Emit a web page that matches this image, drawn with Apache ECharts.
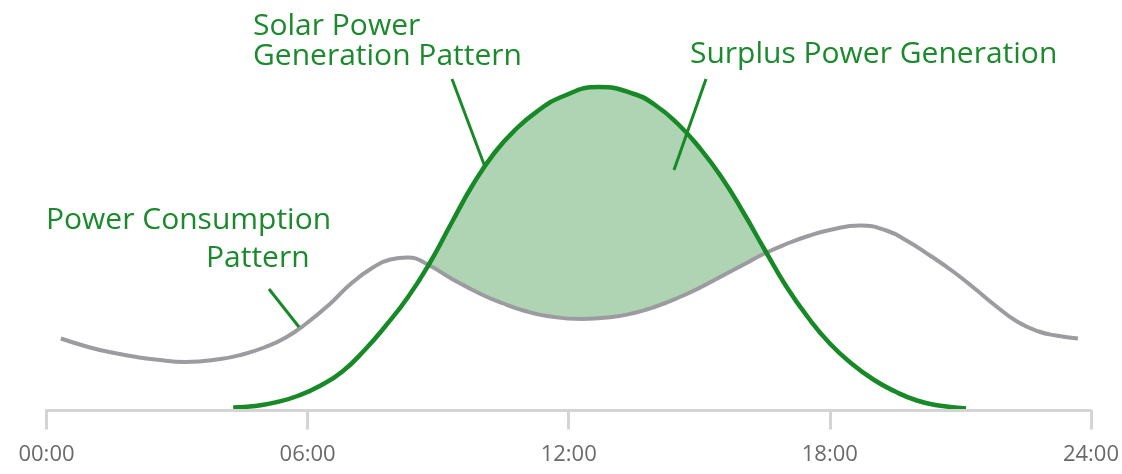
<!DOCTYPE html>
<html>
<head>
<meta charset="utf-8">
<script src="https://cdn.jsdelivr.net/npm/echarts@6/dist/echarts.min.js"></script>
<style>html,body{margin:0;padding:0;background:#fff}#c{width:1122px;height:474px}</style>
</head>
<body>
<div id="c"></div>
<script>
// Hours of day and relative power level (arbitrary units)
const CONSUMPTION_HOURS = [0.33,1.0,1.5,2.0,2.5,3.2,4.0,4.5,5.0,5.5,6.0,6.5,7.0,7.5,7.9,8.3,8.8,9.3,10.0,10.5,11.0,11.5,12.3,13.0,13.5,14.0,14.5,15.0,15.5,16.0,16.5,17.0,17.5,18.0,18.7,19.3,19.8,20.3,20.8,21.3,21.8,22.3,22.8,23.2,23.7];
const CONSUMPTION_VALUES = [72,63,58,54,51,48.5,51.5,56,63,73,88,106,127,143,151,153,145,132,116,107,99.5,94.5,91.5,93.5,97.5,104,112.5,122.5,134,145.5,157,166.5,174.5,180.5,185,180,169,155,140,123,105,89,79,75,72];
const SOLAR_HOURS = [4.29,4.8,5.3,5.8,6.3,6.8,7.3,7.8,8.3,8.8,9.3,9.8,10.3,10.8,11.3,11.8,12.7,13.5,14.0,14.5,15.0,15.5,16.0,16.5,17.0,17.5,18.0,18.5,19.0,19.5,20.0,20.5,21.13];
const SOLAR_VALUES = [3,4.5,8.5,15,25,39,60,85,113,147,187,226,258,282,300,313,323.5,316.5,305,287,263,234,199,161,124,93,67,47,31,19,10,5,2];
const TICK_LABELS = ['00:00','06:00','12:00','18:00','24:00'];

const GREEN = '#178a27';
const GRAY = '#9c9ba0';
const FILL = '#aed4b4';
const TEXT_GREEN = '#1b8a2d';

const consumption = CONSUMPTION_HOURS.map((h, i) => [h, CONSUMPTION_VALUES[i]]);
const solar = SOLAR_HOURS.map((h, i) => [h, SOLAR_VALUES[i]]);

const chart = echarts.init(document.getElementById('c'), null, {renderer: 'canvas'});
const FONT = '"Open Sans", "Noto Sans", sans-serif';
const annoFont = '30px ' + FONT;

function txt(text, x, baseline) {
  return {type: 'text', z: 100, style: {text: text, x: x, y: baseline - 9, font: annoFont, fill: TEXT_GREEN, textAlign: 'left', textVerticalAlign: 'middle'}};
}
function ln(x1, y1, x2, y2) {
  return {type: 'line', z: 100, shape: {x1: x1, y1: y1, x2: x2, y2: y2}, style: {stroke: GREEN, lineWidth: 3}};
}

chart.setOption({
  animation: false,
  grid: {left: 46.5, right: 30, top: 80.5, bottom: 63.5, containLabel: false},
  xAxis: {
    type: 'value', min: 0, max: 24, interval: 6, z: 20,
    axisLine: {show: true, lineStyle: {color: '#d4d4d4', width: 3}},
    axisTick: {show: true, length: 19, lineStyle: {color: '#d4d4d4', width: 3}},
    splitLine: {show: false},
    axisLabel: {
      formatter: v => TICK_LABELS[Math.round(v / 6)],
      color: '#6a6a6a', fontSize: 22, fontWeight: 400, fontFamily: FONT, margin: 33
    }
  },
  yAxis: {type: 'value', min: 0, max: 330, show: false},
  series: [
    // surplus fill: solar area, then the area under consumption masked in white
    {type: 'line', data: solar, smooth: true, symbol: 'none', lineStyle: {width: 0, opacity: 0}, areaStyle: {color: FILL, opacity: 1}, z: 1, silent: true},
    {type: 'line', data: consumption, smooth: true, symbol: 'none', lineStyle: {width: 0, opacity: 0}, areaStyle: {color: '#ffffff', opacity: 1}, z: 2, silent: true},
    {type: 'line', name: 'Power Consumption', data: consumption, smooth: true, symbol: 'none', lineStyle: {color: GRAY, width: 4}, z: 3},
    {type: 'line', name: 'Solar Power Generation', data: solar, smooth: true, symbol: 'none', lineStyle: {color: GREEN, width: 4.5}, z: 4}
  ],
  graphic: [
    txt('Solar Power', 253, 35),
    txt('Generation Pattern', 253, 65),
    txt('Surplus Power Generation', 690, 63),
    txt('Power Consumption', 46, 229),
    txt('Pattern', 206, 267),
    ln(452, 79, 485, 167),
    ln(706, 79, 674, 170),
    ln(269, 289, 299, 327)
  ]
});
</script>
</body>
</html>
